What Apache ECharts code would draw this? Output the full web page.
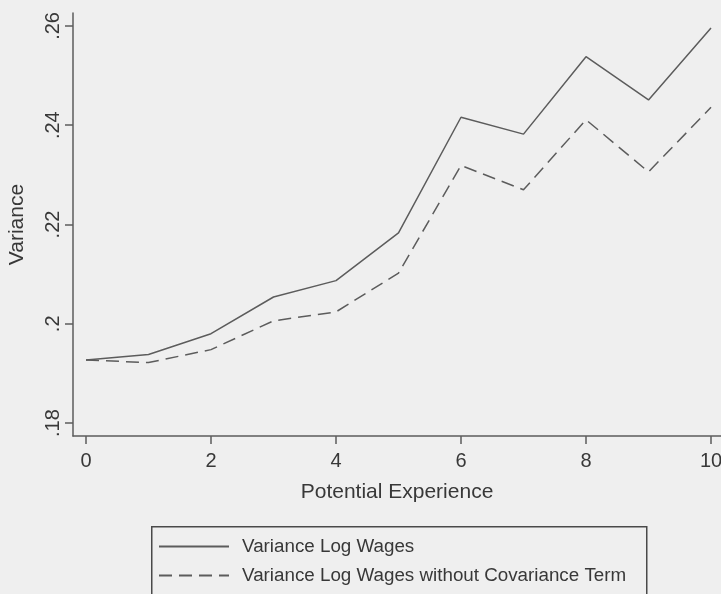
<!DOCTYPE html>
<html>
<head>
<meta charset="utf-8">
<script src="https://cdn.jsdelivr.net/npm/echarts@6/dist/echarts.min.js"></script>
<style>
  html, body { margin: 0; padding: 0; background: #efefef; }
  #chart { width: 721px; height: 594px; }
</style>
</head>
<body>
<div id="chart"></div>
<script>
// Potential experience (years)
const experience = [0, 1, 2, 3, 4, 5, 6, 7, 8, 9, 10];
// Variance of log wages
const varianceLogWages = [0.1927, 0.1938, 0.1980, 0.2054, 0.2087, 0.2183, 0.2416, 0.2382, 0.2538, 0.2451, 0.2596];
// Variance of log wages with the covariance term removed
const varianceNoCov = [0.1927, 0.1922, 0.1948, 0.2006, 0.2024, 0.2102, 0.2319, 0.2270, 0.2411, 0.2306, 0.2436];
// Tick positions
const xTicks = [0, 2, 4, 6, 8, 10];
const yTicks = [0.18, 0.2, 0.22, 0.24, 0.26];

const seriesNames = ['Variance Log Wages', 'Variance Log Wages without Covariance Term'];

const ink = '#383838';
const lineInk = '#5c5c5c';
const font = '"Liberation Sans", Arial, sans-serif';

const pairs = arr => experience.map((x, i) => [x, arr[i]]);

const chart = echarts.init(document.getElementById('chart'), null, { renderer: 'canvas' });
chart.setOption({
  backgroundColor: '#efefef',
  animation: false,
  textStyle: { fontFamily: font, color: ink },
  // The plot area runs to the right edge; labels may spill past it
  grid: { left: 73, right: 0, top: 13, bottom: 158, containLabel: false, outerBoundsMode: 'none' },
  xAxis: {
    type: 'value',
    min: -0.208,
    max: 10.16,
    name: 'Potential Experience',
    nameLocation: 'middle',
    nameGap: 46,
    nameTextStyle: { fontSize: 21, color: ink, fontFamily: font },
    axisLine: { show: true, onZero: false, lineStyle: { color: lineInk, width: 1.5 } },
    axisTick: { show: true, length: 8, customValues: xTicks, lineStyle: { color: lineInk, width: 1.5 } },
    axisLabel: { customValues: xTicks, fontSize: 20, color: ink, margin: 15, fontFamily: font },
    splitLine: { show: false }
  },
  yAxis: {
    type: 'value',
    min: 0.1774,
    max: 0.2626,
    name: 'Variance',
    nameLocation: 'middle',
    nameGap: 45,
    nameTextStyle: { fontSize: 21, color: ink, fontFamily: font },
    axisLine: { show: true, onZero: false, lineStyle: { color: lineInk, width: 1.5 } },
    axisTick: { show: true, length: 8, customValues: yTicks, lineStyle: { color: lineInk, width: 1.5 } },
    axisLabel: {
      customValues: yTicks,
      rotate: 90,
      fontSize: 20,
      color: ink,
      margin: 10,
      fontFamily: font,
      formatter: v => String(+(+v).toFixed(2)).replace(/^0\./, '.')
    },
    splitLine: { show: false }
  },
  // Legend frame, left open at the bottom edge of the page
  graphic: [{
    type: 'rect',
    left: 151,
    top: 526,
    shape: { width: 495, height: 90 },
    style: { fill: 'transparent', stroke: '#4a4a4a', lineWidth: 1.5 },
    silent: true
  }],
  legend: {
    orient: 'vertical',
    left: 151,
    top: 526,
    data: seriesNames,
    itemWidth: 70,
    itemHeight: 14,
    itemGap: 10,
    padding: [11, 10, 4, 7],
    itemStyle: { opacity: 0 },
    textStyle: { fontSize: 18.8, color: ink, fontFamily: font, padding: [0, 0, 0, 8] }
  },
  series: [
    {
      name: seriesNames[0],
      type: 'line',
      data: pairs(varianceLogWages),
      symbol: 'none',
      lineStyle: { color: lineInk, width: 1.5, type: 'solid' },
      itemStyle: { color: lineInk }
    },
    {
      name: seriesNames[1],
      type: 'line',
      data: pairs(varianceNoCov),
      symbol: 'none',
      lineStyle: { color: lineInk, width: 1.5, type: [13, 7] },
      itemStyle: { color: lineInk }
    }
  ]
});
</script>
</body>
</html>
